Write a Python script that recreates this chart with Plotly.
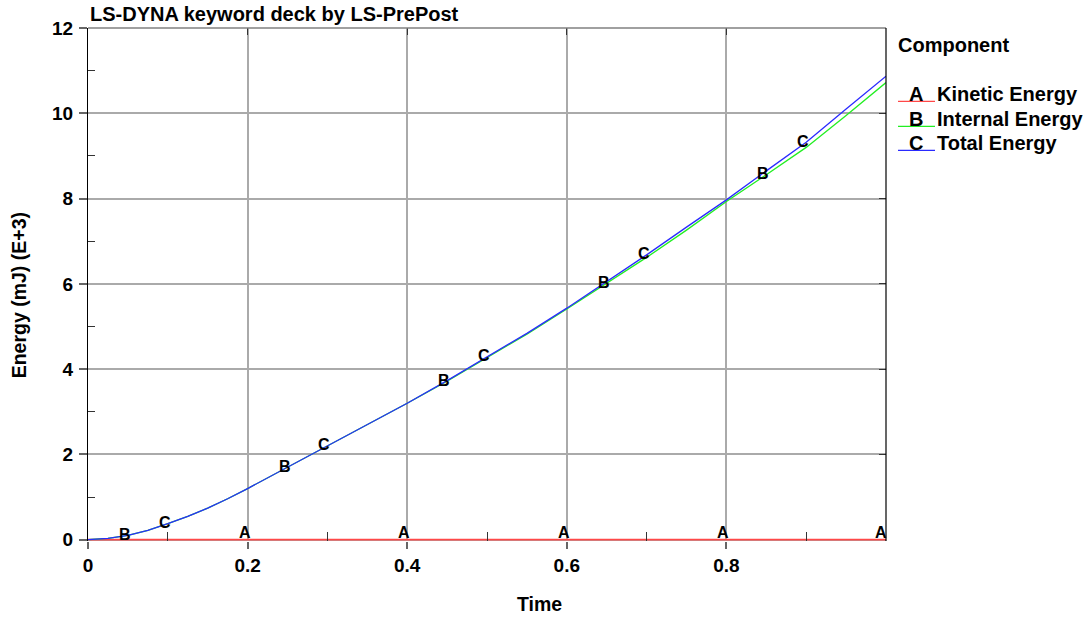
import plotly.graph_objects as go

# Energy history from the LS-DYNA run (energy in mJ, scaled by 1E+3)
time = [0.0, 0.025, 0.05, 0.075, 0.1, 0.125, 0.15, 0.175, 0.2, 0.25, 0.3, 0.35,
        0.4, 0.45, 0.5, 0.55, 0.6, 0.65, 0.7, 0.75, 0.8, 0.85, 0.9, 0.95, 1.0]
kinetic = [0.0, 0.0, 0.0, 0.0, 0.0, 0.0, 0.0, 0.0, 0.0, 0.0, 0.0, 0.0,
           0.0, 0.0, 0.0, 0.0, 0.0, 0.0, 0.0, 0.0, 0.0, 0.0, 0.0, 0.0, 0.0]
internal = [0.0, 0.03, 0.1, 0.22, 0.38, 0.55, 0.74, 0.96, 1.2, 1.7, 2.2, 2.7,
            3.2, 3.72, 4.27, 4.82, 5.41, 6.02, 6.62, 7.26, 7.93, 8.56, 9.2, 9.95, 10.72]
total = [0.0, 0.03, 0.1, 0.22, 0.38, 0.55, 0.74, 0.96, 1.2, 1.7, 2.2, 2.7,
         3.2, 3.73, 4.29, 4.84, 5.43, 6.05, 6.68, 7.33, 7.97, 8.65, 9.32, 10.1, 10.87]

series_names = ["Kinetic Energy", "Internal Energy", "Total Energy"]
series_tags = ["A", "B", "C"]
series_colors = ["#ff4848", "#22ee22", "#2a2aff"]
series_widths = [1.8, 1.3, 1.3]
series_data = [kinetic, internal, total]

# curve tag positions (time values where the letter is drawn on each curve)
tag_times = {
    "A": [0.2, 0.4, 0.6, 0.8, 1.0],
    "B": [0.05, 0.25, 0.45, 0.65, 0.85],
    "C": [0.1, 0.3, 0.5, 0.7, 0.9],
}

W, H = 1089, 617
# frame in pixels; the value axis starts a hair below zero so the
# zero-level curve is not clipped by the frame
Y_MIN, Y_MAX = -0.03, 12.0
L, R, T = 88, 886, 28
Y0_PX = 540
B = Y0_PX + (0 - Y_MIN) * (Y0_PX - T) / Y_MAX


def px(x):
    return (x - L) / (R - L)


def py(y):
    return (B - y) / (B - T)


FONT = "Liberation Sans, Arial, sans-serif"

fig = go.Figure()
for name, color, width, ys in zip(series_names, series_colors, series_widths, series_data):
    fig.add_trace(go.Scatter(
        x=time, y=ys, mode="lines", name=name,
        line=dict(color=color, width=width), cliponaxis=False, showlegend=False,
    ))

annotations = []
for tag, ys in zip(series_tags, series_data):
    for t in tag_times[tag]:
        i = time.index(t)
        annotations.append(dict(
            x=t, y=ys[i], xref="x", yref="y", text=tag, showarrow=False,
            xanchor="center", yanchor="middle",
            xshift=-5 if t == 1.0 else -3,
            yshift=7 if tag == "A" else 1,
            font=dict(family=FONT, size=16, color="black", weight="bold"),
        ))

# chart title and axis titles
annotations.append(dict(
    x=0, y=py(14), xref="paper", yref="paper", xanchor="left", yanchor="middle",
    text="LS-DYNA keyword deck by LS-PrePost", showarrow=False,
    font=dict(family=FONT, size=20, color="black", weight="bold"),
))
annotations.append(dict(
    x=px(539), y=py(604), xref="paper", yref="paper", xanchor="center", yanchor="middle",
    text="Time", showarrow=False,
    font=dict(family=FONT, size=19.5, color="black", weight="bold"),
))
annotations.append(dict(
    x=px(18.5), y=py(296), xref="paper", yref="paper", xanchor="center", yanchor="middle",
    text="Energy (mJ) (E+3)", textangle=-90, showarrow=False,
    font=dict(family=FONT, size=19.5, color="black", weight="bold"),
))

# component legend
annotations.append(dict(
    x=px(896), y=py(45), xref="paper", yref="paper", xanchor="left", yanchor="middle",
    text="Component", showarrow=False,
    font=dict(family=FONT, size=20, color="black", weight="bold"),
))
shapes = []
legend_rows = [94, 119, 143]
for row_y, tag, name, color in zip(legend_rows, series_tags, series_names, series_colors):
    annotations.append(dict(
        x=px(916), y=py(row_y), xref="paper", yref="paper", xanchor="center", yanchor="middle",
        text=tag, showarrow=False,
        font=dict(family=FONT, size=20, color="black", weight="bold"),
    ))
    annotations.append(dict(
        x=px(935), y=py(row_y), xref="paper", yref="paper", xanchor="left", yanchor="middle",
        text=name, showarrow=False,
        font=dict(family=FONT, size=20, color="black", weight="bold"),
    ))
    shapes.append(dict(
        type="line", xref="paper", yref="paper",
        x0=px(898), x1=px(935), y0=py(row_y + 7.5), y1=py(row_y + 7.5),
        line=dict(color=color, width=1.3),
    ))

# frame: grey top edge, black right edge
shapes.append(dict(type="line", xref="paper", yref="paper", x0=0, x1=1, y0=1, y1=1,
                   line=dict(color="#808080", width=1.5), layer="above"))
shapes.append(dict(type="line", xref="paper", yref="paper", x0=1, x1=1, y0=0, y1=1,
                   line=dict(color="black", width=1.2), layer="above"))

tickfont = dict(family=FONT, size=19, color="black", weight="bold")

fig.update_layout(
    width=W, height=H,
    margin=dict(l=L, r=W - R, t=T, b=H - B),
    paper_bgcolor="white", plot_bgcolor="white",
    annotations=annotations, shapes=shapes,
    xaxis=dict(
        range=[0, 1], tickvals=[0, 0.2, 0.4, 0.6, 0.8],
        ticktext=["0", "0.2", "0.4", "0.6", "0.8"],
        ticks="outside", ticklen=7, tickcolor="#666666", tickwidth=1.5,
        showgrid=True, gridcolor="#aaaaaa", gridwidth=1.5,
        showline=False, zeroline=False, tickfont=tickfont,
        minor=dict(tickvals=[0.1, 0.3, 0.5, 0.7, 0.9], ticks="inside",
                   ticklen=9, tickcolor="#333333", tickwidth=1, showgrid=False),
    ),
    yaxis=dict(
        range=[Y_MIN, Y_MAX], tickvals=[0, 2, 4, 6, 8, 10, 12],
        ticks="outside", ticklen=8, tickcolor="#666666", tickwidth=1.5,
        showgrid=True, gridcolor="#aaaaaa", gridwidth=1.5,
        showline=True, linecolor="black", linewidth=1.2,
        zeroline=False, tickfont=tickfont, ticklabelstandoff=2,
        minor=dict(tickvals=[1, 3, 5, 7, 9, 11], ticks="inside",
                   ticklen=7, tickcolor="#333333", tickwidth=1, showgrid=False),
    ),
    # inward ticks on the top and right edges of the frame
    xaxis2=dict(
        overlaying="x", side="top", matches="x", range=[0, 1],
        tickvals=[0.2, 0.4, 0.6, 0.8], ticks="inside", ticklen=7,
        tickcolor="#333333", showticklabels=False, showgrid=False, zeroline=False,
    ),
    yaxis2=dict(
        overlaying="y", side="right", matches="y", range=[Y_MIN, Y_MAX],
        tickvals=[2, 4, 6, 8, 10], ticks="inside", ticklen=7,
        tickcolor="#333333", showticklabels=False, showgrid=False, zeroline=False,
    ),
)

# invisible trace to activate the mirrored edge axes
fig.add_trace(go.Scatter(x=[0], y=[0], xaxis="x2", yaxis="y2", mode="markers",
                         marker=dict(opacity=0), hoverinfo="skip", showlegend=False))

fig.write_html("out.html")
